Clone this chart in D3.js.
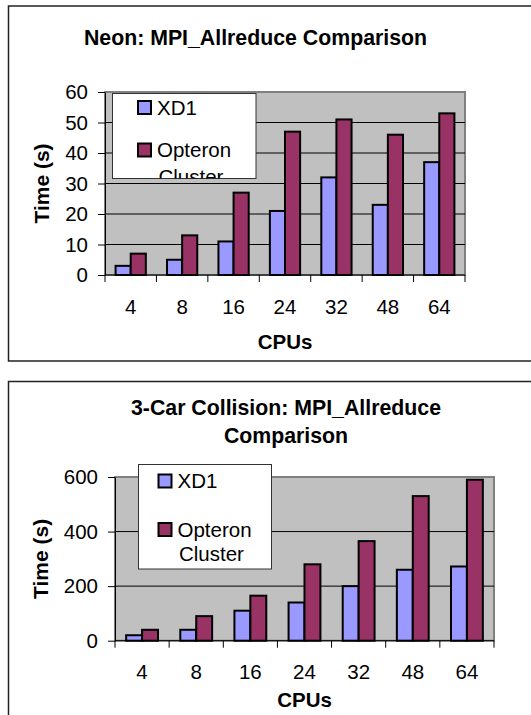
<!DOCTYPE html>
<html>
<head>
<meta charset="utf-8">
<script src="https://cdn.jsdelivr.net/npm/d3@7"></script>
<style>
  body { margin: 0; background: #fff; }
  svg text { font-family: "Liberation Sans", Arial, sans-serif; fill: #000; }
</style>
</head>
<body>
<svg id="chart" width="531" height="715"></svg>
<script>
// data
var cpus = ["4", "8", "16", "24", "32", "48", "64"];
var seriesNames = ["XD1", "Opteron Cluster"];
var seriesColors = ["#9999ff", "#993366"];

var neonXD1 = [3, 5, 11, 21, 32, 23, 37];
var neonOpteron = [7, 13, 27, 47, 51, 46, 53];
var neonTicks = [0, 10, 20, 30, 40, 50, 60];

var carXD1 = [20, 40, 110, 140, 200, 260, 272];
var carOpteron = [40, 90, 165, 280, 365, 530, 590];
var carTicks = [0, 200, 400, 600];

var svg = d3.select("#chart");

function drawChart(cfg) {
  var g = svg.append("g");

  // outer frame (runs off the right edge like the original)
  g.append("rect")
    .attr("x", 8.5).attr("y", cfg.frameTop)
    .attr("width", 540).attr("height", cfg.frameHeight)
    .attr("fill", "#fff").attr("stroke", "#222").attr("stroke-width", 1.5);

  // title lines
  cfg.title.forEach(function(t, i) {
    g.append("text")
      .attr("x", cfg.titleX).attr("y", cfg.titleY + i * 28.3)
      .attr("text-anchor", "middle")
      .style("font-size", "21.3px").style("font-weight", "bold")
      .text(t);
  });

  var x0 = d3.scaleBand().domain(cpus).range([cfg.left, cfg.right]);
  var x1 = d3.scaleBand().domain(seriesNames).range([0, x0.bandwidth()]).paddingOuter(0.7);
  var y = d3.scaleLinear().domain([0, cfg.ticks[cfg.ticks.length - 1]]).range([cfg.bottom, cfg.top]);

  // plot area
  g.append("rect")
    .attr("x", cfg.left).attr("y", cfg.top)
    .attr("width", cfg.right - cfg.left).attr("height", cfg.bottom - cfg.top)
    .attr("fill", "#c0c0c0").attr("stroke", "#808080").attr("stroke-width", 2);

  // gridlines
  g.selectAll(".grid").data(cfg.ticks.slice(1, -1)).enter().append("line")
    .attr("x1", cfg.left).attr("x2", cfg.right)
    .attr("y1", function(d) { return y(d); }).attr("y2", function(d) { return y(d); })
    .attr("stroke", "#000").attr("stroke-width", 1);

  // bars
  var rows = cpus.map(function(c, i) { return { cpu: c, vals: [cfg.xd1[i], cfg.opt[i]] }; });
  var grp = g.selectAll(".grp").data(rows).enter().append("g")
    .attr("transform", function(d) { return "translate(" + x0(d.cpu) + ",0)"; });
  grp.selectAll("rect").data(function(d) {
      return d.vals.map(function(v, j) { return { name: seriesNames[j], v: v, j: j }; });
    }).enter().append("rect")
    .attr("x", function(d) { return x1(d.name); })
    .attr("y", function(d) { return y(d.v); })
    .attr("width", x1.bandwidth())
    .attr("height", function(d) { return cfg.bottom - y(d.v); })
    .attr("fill", function(d) { return seriesColors[d.j]; })
    .attr("stroke", "#000").attr("stroke-width", 2);

  // y axis
  var yAxis = g.append("g").attr("transform", "translate(" + cfg.left + ",0)")
    .call(d3.axisLeft(y).tickValues(cfg.ticks).tickSize(7).tickSizeOuter(0).tickPadding(10));
  yAxis.selectAll("text").style("font-size", "20.5px");
  yAxis.select(".domain").attr("stroke", "#000");

  // x axis: labels centred, tick marks between categories
  var xAxis = g.append("g").attr("transform", "translate(0," + cfg.bottom + ")")
    .call(d3.axisBottom(x0).tickSize(0).tickPadding(24));
  xAxis.selectAll("text").style("font-size", "20.5px");
  xAxis.select(".domain").remove();
  g.append("line")
    .attr("x1", cfg.left).attr("x2", cfg.right)
    .attr("y1", cfg.bottom).attr("y2", cfg.bottom)
    .attr("stroke", "#000");
  var edges = cpus.map(function(c) { return x0(c); }).concat([cfg.right]);
  g.selectAll(".xt").data(edges).enter().append("line")
    .attr("x1", function(d) { return d; }).attr("x2", function(d) { return d; })
    .attr("y1", cfg.bottom).attr("y2", cfg.bottom + 7)
    .attr("stroke", "#000");

  // axis titles
  g.append("text")
    .attr("transform", "translate(" + cfg.yTitleX + "," + (cfg.top + cfg.bottom) / 2 + ") rotate(-90)")
    .attr("text-anchor", "middle").attr("dy", "0.35em")
    .style("font-size", "21px").style("font-weight", "bold")
    .text("Time (s)");
  g.append("text")
    .attr("x", (cfg.left + cfg.right) / 2).attr("y", cfg.xTitleY)
    .attr("text-anchor", "middle")
    .style("font-size", "20.5px").style("font-weight", "bold")
    .text("CPUs");

  // legend
  var L = cfg.legend;
  var clipId = "clip" + cfg.id;
  g.append("clipPath").attr("id", clipId).append("rect")
    .attr("x", L.x).attr("y", L.y).attr("width", L.w).attr("height", L.h);
  g.append("rect")
    .attr("x", L.x).attr("y", L.y).attr("width", L.w).attr("height", L.h)
    .attr("fill", "#fff").attr("stroke", "#333").attr("stroke-width", 1);
  var lg = g.append("g").attr("clip-path", "url(#" + clipId + ")");
  seriesNames.forEach(function(name, i) {
    var sy = L.y + L.firstY + i * L.gap;
    lg.append("rect")
      .attr("x", L.x + L.swX).attr("y", sy)
      .attr("width", 13).attr("height", 13)
      .attr("fill", seriesColors[i]).attr("stroke", "#000").attr("stroke-width", 2);
    var words = i === 0 ? [name] : name.split(" ");
    words.forEach(function(w, k) {
      lg.append("text")
        .attr("x", L.x + L.swX + 19 + (k > 0 ? 1.5 : 0)).attr("y", sy + 13.5 + k * L.lineGap)
        .style("font-size", "20.5px")
        .text(w);
    });
  });
}

drawChart({
  id: "neon", frameTop: 6, frameHeight: 355,
  title: ["Neon: MPI_Allreduce Comparison"], titleX: 255.5, titleY: 44.5,
  left: 105, right: 465, top: 92, bottom: 275,
  ticks: neonTicks, xd1: neonXD1, opt: neonOpteron,
  yTitleX: 42, xTitleY: 349,
  legend: { x: 112.5, y: 93.5, w: 143.5, h: 85, swX: 25.5, firstY: 7.5, gap: 42.5, lineGap: 27 }
});

drawChart({
  id: "car", frameTop: 381.5, frameHeight: 400,
  title: ["3-Car Collision: MPI_Allreduce", "Comparison"], titleX: 286, titleY: 415,
  left: 115, right: 494, top: 477, bottom: 640.7,
  ticks: carTicks, xd1: carXD1, opt: carOpteron,
  yTitleX: 40.5, xTitleY: 707,
  legend: { x: 138.5, y: 464.5, w: 133, h: 104.5, swX: 20, firstY: 10, gap: 48.5, lineGap: 24.4 }
});
</script>
</body>
</html>
